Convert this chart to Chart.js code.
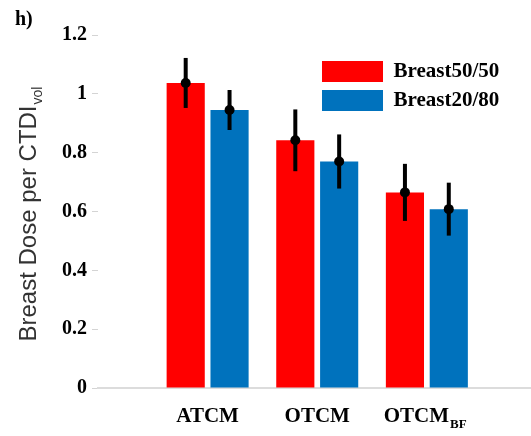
<!DOCTYPE html>
<html>
<head>
<meta charset="utf-8">
<title>Breast dose per CTDIvol</title>
<script src="https://cdn.jsdelivr.net/npm/chart.js@4.4.1/dist/chart.umd.min.js"></script>
<style>
  html, body { margin: 0; padding: 0; background: #fff; }
  #wrap { width: 531px; height: 436px; }
</style>
</head>
<body>
<div id="wrap"><canvas id="chart" width="531" height="436"></canvas></div>
<script>
// categories, "_" marks a subscript
const categories = ['ATCM', 'OTCM', 'OTCM_BF'];
const seriesNames = ['Breast50/50', 'Breast20/80'];

const breast5050 = [1.037, 0.842, 0.665];
const breast5050Err = [0.085, 0.105, 0.097];
const breast2080 = [0.945, 0.77, 0.608];
const breast2080Err = [0.068, 0.092, 0.09];

const yTicks = [0, 0.2, 0.4, 0.6, 0.8, 1, 1.2];
const yTitle = 'Breast Dose per CTDI_vol';
const panelLabel = 'h)';

const serif = '"Liberation Serif", "Times New Roman", serif';
const sans = '"Liberation Sans", Arial, sans-serif';
const yTitleSize = 24;

const toPoints = vals => vals.map((v, i) => ({x: i + 1, y: v}));
const splitSub = s => s.split('_');

// black error bars with a dot at the mean
const errorBars = {
    id: 'errorBars',
    afterDatasetsDraw(chart) {
        const {ctx} = chart;
        const y = chart.scales.y;
        chart.data.datasets.forEach((ds, i) => {
            const meta = chart.getDatasetMeta(i);
            meta.data.forEach((bar, j) => {
                const v = ds.data[j].y;
                const e = ds.errors[j];
                ctx.save();
                ctx.strokeStyle = '#000';
                ctx.fillStyle = '#000';
                ctx.lineWidth = 4;
                ctx.beginPath();
                ctx.moveTo(bar.x, y.getPixelForValue(v + e));
                ctx.lineTo(bar.x, y.getPixelForValue(v - e));
                ctx.stroke();
                ctx.beginPath();
                ctx.arc(bar.x, y.getPixelForValue(v), 5, 0, Math.PI * 2);
                ctx.fill();
                ctx.restore();
            });
        });
    }
};

// subscripts for the x labels and the y title
const subscripts = {
    id: 'subscripts',
    afterDraw(chart) {
        const {ctx, chartArea} = chart;
        const x = chart.scales.x;
        const y = chart.scales.y;
        ctx.save();
        ctx.fillStyle = '#000';
        ctx.textAlign = 'left';
        ctx.textBaseline = 'alphabetic';
        categories.forEach((c, i) => {
            const [main, sub] = splitSub(c);
            if (!sub) return;
            ctx.font = 'bold 21px ' + serif;
            const full = ctx.measureText(main + '\u2003').width;
            const mw = ctx.measureText(main).width;
            const cx = x.getPixelForValue(i + 1);
            ctx.font = 'bold 13px ' + serif;
            ctx.fillText(sub, cx - full / 2 + mw + 1, chartArea.bottom + 40);
        });

        const [tMain, tSub] = splitSub(yTitle);
        ctx.font = yTitleSize + 'px ' + sans;
        const full = ctx.measureText(tMain + '\u2003').width;
        const mw = ctx.measureText(tMain).width;
        const tx = y.left + yTitleSize * 1.2 / 2;
        const ty = (chartArea.top + chartArea.bottom) / 2;
        ctx.translate(tx, ty);
        ctx.rotate(-Math.PI / 2);
        ctx.fillStyle = '#333';
        ctx.font = '14px ' + sans;
        ctx.fillText(tSub, -full / 2 + mw + 1, 13);
        ctx.restore();
    }
};

// legend sits inside the plot, upper right
const legendSpot = {
    id: 'legendSpot',
    afterLayout(chart) {
        chart.legend.left = chart.chartArea.left + 216;
        chart.legend.top = chart.chartArea.top + 18;
    }
};

new Chart(document.getElementById('chart'), {
    type: 'bar',
    data: {
        datasets: [{
            label: seriesNames[0],
            data: toPoints(breast5050),
            errors: breast5050Err,
            backgroundColor: '#ff0000',
            borderWidth: 0
        }, {
            label: seriesNames[1],
            data: toPoints(breast2080),
            errors: breast2080Err,
            backgroundColor: '#0072bd',
            borderWidth: 0
        }]
    },
    options: {
        responsive: false,
        devicePixelRatio: 1,
        animation: false,
        categoryPercentage: 0.8,
        barPercentage: 0.87,
        layout: {padding: {left: 15, right: 0, top: 0, bottom: 0}},
        plugins: {
            title: {
                display: true,
                text: panelLabel,
                align: 'start',
                color: '#000',
                font: {family: serif, size: 20, weight: 'bold'},
                padding: {top: 8, bottom: 3}
            },
            legend: {
                position: 'chartArea',
                align: 'start',
                labels: {
                    boxWidth: 61,
                    boxHeight: 21,
                    padding: 8,
                    color: '#000',
                    font: {family: serif, size: 21, weight: 'bold'}
                }
            },
            tooltip: {enabled: false}
        },
        scales: {
            x: {
                type: 'linear',
                offset: false,
                min: 0,
                max: 3.95,
                grid: {display: false},
                border: {display: true, color: '#dcdcdc', width: 2},
                afterBuildTicks: scale => {
                    scale.ticks = categories.map((c, i) => ({value: i + 1}));
                },
                afterFit: scale => { scale.height = 48; },
                ticks: {
                    padding: 8,
                    color: '#000',
                    font: {family: serif, size: 21, weight: 'bold'},
                    maxRotation: 0,
                    callback: (value) => {
                        const [main, sub] = splitSub(categories[value - 1]);
                        return sub ? main + '\u2003' : main;
                    }
                }
            },
            y: {
                min: 0,
                max: 1.2,
                grid: {display: true, drawOnChartArea: false, drawTicks: true, tickLength: 6, color: '#d4d4d4'},
                border: {display: false},
                afterBuildTicks: scale => {
                    scale.ticks = yTicks.map(v => ({value: v}));
                },
                afterFit: scale => { scale.width = 83; },
                ticks: {
                    padding: 5,
                    color: '#000',
                    font: {family: serif, size: 20, weight: 'bold'},
                    callback: v => String(v)
                },
                title: {
                    display: true,
                    text: splitSub(yTitle)[0] + '\u2003',
                    color: '#333',
                    padding: 0,
                    font: {family: sans, size: yTitleSize}
                }
            }
        }
    },
    plugins: [errorBars, subscripts, legendSpot]
});
</script>
</body>
</html>
